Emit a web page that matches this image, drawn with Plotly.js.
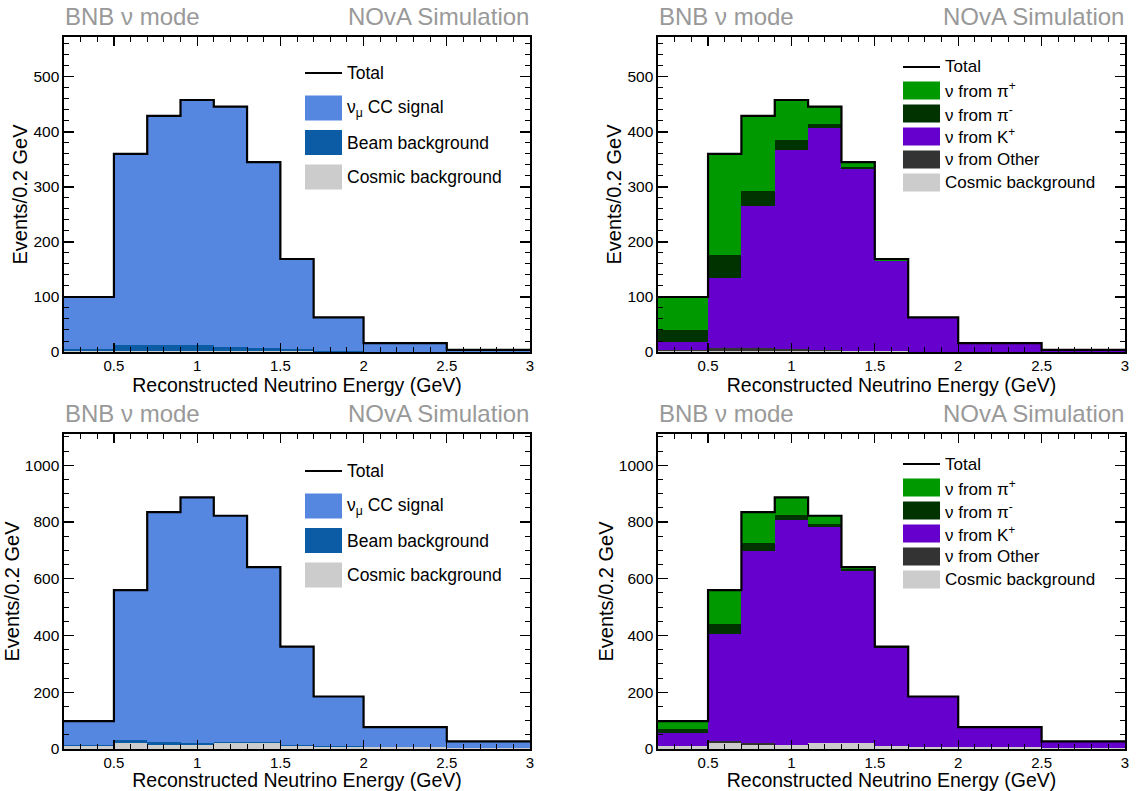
<!DOCTYPE html>
<html>
<head>
<meta charset="utf-8">
<script src="https://cdn.plot.ly/plotly-3.0.1.min.js"></script>
<style>html,body{margin:0;padding:0;background:#fff;}#chart{width:1141px;height:791px;}</style>
</head>
<body>
<div id="chart"></div>
<script>
// ---------------- data ----------------
const binEdges = [0.2, 0.5, 0.7, 0.9, 1.1, 1.3, 1.5, 1.7, 2.0, 2.5, 3.0];
const xTickVals = [0.5, 1, 1.5, 2, 2.5, 3];
const xTickText = ['0.5', '1', '1.5', '2', '2.5', '3'];

// top row (events / 0.2 GeV)
const topTotal     = [100, 360, 429, 458, 446, 345, 169, 63, 16, 4];
const topSignal    = [95, 347, 416, 446, 437, 338, 164, 61.5, 15.2, 3.6];
const topBeamBkg   = [4, 12, 12, 11, 8, 6, 4, 1, 0.5, 0.2];
const topCosmic    = [1, 1, 1, 1, 1, 1, 1, 0.5, 0.3, 0.2];
const topFromPiP   = [60, 184, 136, 73, 32, 9, 3, 0.7, 0.4, 0.1];
const topFromPiM   = [22, 41, 27, 17, 6, 3, 1, 0.5, 0.2, 0.1];
const topFromKP    = [15, 128, 259, 363, 405, 331, 163.5, 61, 15, 3.5];
const topFromOther = [2, 6, 6, 4, 2, 1, 0.5, 0.3, 0.1, 0.1];

// bottom row
const botTotal     = [98, 560, 835, 887, 822, 641, 361, 185, 77, 27];
const botSignal    = [85, 530, 809, 865, 797, 618, 347, 176, 70.5, 21.7];
const botBeamBkg   = [3, 10, 12, 9, 5, 3, 4, 1, 0.5, 0.3];
const botCosmic    = [10, 20, 14, 13, 20, 20, 10, 8, 6, 5];
const botFromPiP   = [26, 118, 108, 64, 30, 8, 2, 1, 0.4, 0.2];
const botFromPiM   = [15, 35, 28, 17, 10, 7, 2, 0.5, 0.3, 0.1];
const botFromKP    = [45, 380, 679, 791, 761, 605, 346, 175, 70, 21.5];
const botFromOther = [2, 7, 6, 2, 1, 1, 1, 0.5, 0.3, 0.2];

const signalLabels = ['Total', '\u03bd<sub>\u03bc</sub> CC signal', 'Beam background', 'Cosmic background'];
const parentLabels = ['Total', '\u03bd from \u03c0<sup>+</sup>', '\u03bd from \u03c0<sup>-</sup>', '\u03bd from K<sup>+</sup>', '\u03bd from Other', 'Cosmic background'];
const headerLeft = 'BNB \u03bd mode';
const headerRight = 'NOvA Simulation';
const xTitle = 'Reconstructed Neutrino Energy (GeV)';
const yTitle = 'Events/0.2 GeV';

// ---------------- styles ----------------
const C = {
  signal: '#5586e0', beam: '#0b5ca5', cosmic: '#cccccc',
  piP: '#009900', piM: '#003300', kP: '#6600cc', other: '#333333'
};
const FONT = 'Liberation Sans, Arial, Helvetica, sans-serif';
const W = 1141, H = 791;
const px = v => v / W;
const py = v => 1 - v / H;

const centers = binEdges.slice(0, -1).map((e, i) => (e + binEdges[i + 1]) / 2);
const widths = binEdges.slice(0, -1).map((e, i) => binEdges[i + 1] - e);

const traces = [];
function barTrace(vals, color, name, ax) {
  traces.push({
    type: 'bar', x: centers, y: vals, width: widths, name: name,
    marker: {color: color, line: {width: 0}},
    xaxis: ax.x, yaxis: ax.y, showlegend: false, hoverinfo: 'x+y+name'
  });
}
function totalTrace(vals, ax) {
  traces.push({
    type: 'scatter', mode: 'lines', x: binEdges, y: vals.concat([vals[vals.length - 1]]),
    line: {shape: 'hv', color: '#000', width: 2.2}, name: 'Total',
    xaxis: ax.x, yaxis: ax.y, showlegend: false, cliponaxis: true
  });
}

const A1 = {x: 'x', y: 'y'}, A2 = {x: 'x2', y: 'y2'}, A3 = {x: 'x3', y: 'y3'}, A4 = {x: 'x4', y: 'y4'};

// top-left
barTrace(topCosmic, C.cosmic, 'Cosmic background', A1);
barTrace(topBeamBkg, C.beam, 'Beam background', A1);
barTrace(topSignal, C.signal, '\u03bd\u03bc CC signal', A1);
totalTrace(topTotal, A1);
// top-right
barTrace(topCosmic, C.cosmic, 'Cosmic background', A2);
barTrace(topFromOther, C.other, '\u03bd from Other', A2);
barTrace(topFromKP, C.kP, '\u03bd from K+', A2);
barTrace(topFromPiM, C.piM, '\u03bd from \u03c0-', A2);
barTrace(topFromPiP, C.piP, '\u03bd from \u03c0+', A2);
totalTrace(topTotal, A2);
// bottom-left
barTrace(botCosmic, C.cosmic, 'Cosmic background', A3);
barTrace(botBeamBkg, C.beam, 'Beam background', A3);
barTrace(botSignal, C.signal, '\u03bd\u03bc CC signal', A3);
totalTrace(botTotal, A3);
// bottom-right
barTrace(botCosmic, C.cosmic, 'Cosmic background', A4);
barTrace(botFromOther, C.other, '\u03bd from Other', A4);
barTrace(botFromKP, C.kP, '\u03bd from K+', A4);
barTrace(botFromPiM, C.piM, '\u03bd from \u03c0-', A4);
barTrace(botFromPiP, C.piP, '\u03bd from \u03c0+', A4);
totalTrace(botTotal, A4);

// ---------------- layout ----------------
function xAxis(domPx, anchor) {
  return {
    domain: [px(domPx[0]), px(domPx[1])], anchor: anchor, range: [0.2, 3],
    tickvals: xTickVals, ticktext: xTickText, ticks: 'inside', ticklen: 9, tickwidth: 1.2,
    tickcolor: '#000', showline: true, linecolor: '#000', linewidth: 1.6, mirror: 'ticks',
    showgrid: false, zeroline: false, ticklabelstandoff: -1,
    minor: {ticks: 'inside', dtick: 0.1, tick0: 0, ticklen: 5, tickwidth: 1, tickcolor: '#000', showgrid: false},
    tickfont: {family: FONT, size: 15, color: '#000'},
    title: {text: xTitle, font: {family: FONT, size: 19.5, color: '#000'}, standoff: 3}
  };
}
function yAxis(domPx, anchor, ymax, dtick, mdtick) {
  return {
    domain: [py(domPx[1]), py(domPx[0])], anchor: anchor, range: [0, ymax],
    dtick: dtick, tick0: 0, ticks: 'inside', ticklen: 10, tickwidth: 1.2, tickcolor: '#000',
    showline: true, linecolor: '#000', linewidth: 1.6, mirror: 'ticks',
    showgrid: false, zeroline: false,
    minor: {ticks: 'inside', dtick: mdtick, tick0: 0, ticklen: 5, tickwidth: 1, tickcolor: '#000', showgrid: false},
    tickfont: {family: FONT, size: 15.5, color: '#000'},
    title: {text: yTitle, font: {family: FONT, size: 20, color: '#000'}, standoff: 0}
  };
}

const layout = {
  width: W, height: H, margin: {l: 0, r: 0, t: 0, b: 0},
  paper_bgcolor: '#fff', plot_bgcolor: '#fff', barmode: 'stack', showlegend: false,
  font: {family: FONT},
  xaxis: xAxis([64, 530], 'y'),
  yaxis: yAxis([37, 352], 'x', 572.5, 100, 20),
  xaxis2: xAxis([658, 1125], 'y2'),
  yaxis2: yAxis([37, 352], 'x2', 572.5, 100, 20),
  xaxis3: xAxis([64, 530], 'y3'),
  yaxis3: yAxis([434, 749], 'x3', 1110, 200, 50),
  xaxis4: xAxis([658, 1125], 'y4'),
  yaxis4: yAxis([434, 749], 'x4', 1110, 200, 50),
  shapes: [], annotations: []
};

// headers
[[63, 531, 16], [657, 1126, 16], [63, 531, 413], [657, 1126, 413]].forEach(h => {
  layout.annotations.push({xref: 'paper', yref: 'paper', x: px(h[0]), y: py(h[2]), xanchor: 'left', yanchor: 'middle',
    text: headerLeft, showarrow: false, font: {family: FONT, size: 24, color: '#999999'}});
  layout.annotations.push({xref: 'paper', yref: 'paper', x: px(h[1]), y: py(h[2]), xanchor: 'right', yanchor: 'middle',
    text: headerRight, showarrow: false, font: {family: FONT, size: 24, color: '#999999'}});
});

// legends (drawn in paper space)
function addLegend(labels, colors, x0, x1, textX, lineY, firstY, step, boxH, fsize) {
  layout.shapes.push({type: 'line', xref: 'paper', yref: 'paper', x0: px(x0), x1: px(x1), y0: py(lineY), y1: py(lineY),
    line: {color: '#000', width: 2}});
  layout.annotations.push({xref: 'paper', yref: 'paper', x: px(textX), y: py(lineY), xanchor: 'left', yanchor: 'middle',
    text: labels[0], showarrow: false, font: {family: FONT, size: fsize, color: '#000'}});
  for (let i = 1; i < labels.length; i++) {
    const cy = firstY + (i - 1) * step;
    layout.shapes.push({type: 'rect', xref: 'paper', yref: 'paper', x0: px(x0), x1: px(x1),
      y0: py(cy + boxH / 2), y1: py(cy - boxH / 2), fillcolor: colors[i - 1], line: {width: 0}});
    layout.annotations.push({xref: 'paper', yref: 'paper', x: px(textX), y: py(cy), xanchor: 'left', yanchor: 'middle',
      text: labels[i], showarrow: false, font: {family: FONT, size: fsize, color: '#000'}});
  }
}
const sigColors = [C.signal, C.beam, C.cosmic];
const parColors = [C.piP, C.piM, C.kP, C.other, C.cosmic];
addLegend(signalLabels, sigColors, 305, 342, 345, 73, 108, 34.5, 25, 17.5);
addLegend(parentLabels, parColors, 903, 940, 943, 67, 90.5, 23, 18, 17);
addLegend(signalLabels, sigColors, 305, 342, 345, 471, 506, 34.5, 25, 17.5);
addLegend(parentLabels, parColors, 903, 940, 943, 464, 487.5, 23, 18, 17);

Plotly.newPlot('chart', traces, layout, {displayModeBar: false, staticPlot: true});
</script>
</body>
</html>
